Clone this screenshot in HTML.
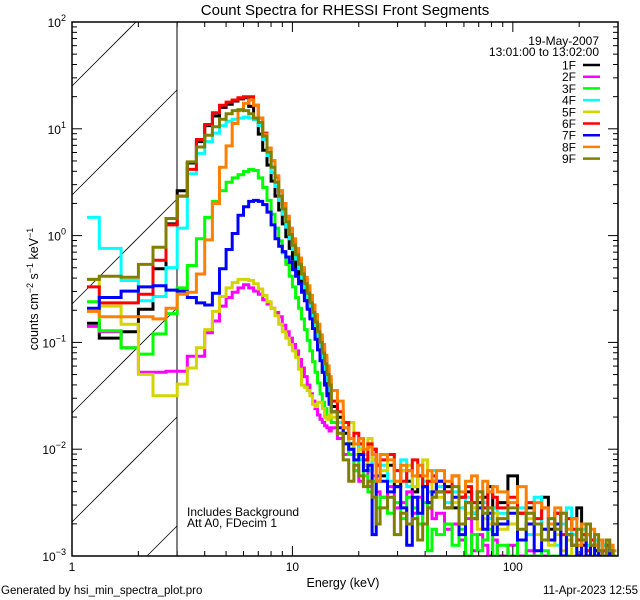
<!DOCTYPE html>
<html><head><meta charset="utf-8"><title>Count Spectra for RHESSI Front Segments</title>
<style>
html,body{margin:0;padding:0;background:#fff;width:640px;height:600px;overflow:hidden;}
svg{display:block;font-family:"Liberation Sans",sans-serif;}
</style></head>
<body>
<svg id="chart" width="640" height="600" viewBox="0 0 640 600" xmlns="http://www.w3.org/2000/svg">
<defs><clipPath id="plotclip"><rect x="72" y="22" width="546" height="534"/></clipPath></defs>
<rect width="640" height="600" fill="#fff"/>
<text x="345" y="15" font-size="15" text-anchor="middle">Count Spectra for RHESSI Front Segments</text>
<g id="hatch"></g>
<line x1="177" y1="22" x2="177" y2="556" stroke="#000" stroke-width="1"/>
<g id="series" clip-path="url(#plotclip)"></g>
<rect x="72" y="22" width="546" height="534" fill="none" stroke="#000" stroke-width="1.5"/>
<g id="ticks"></g>
<text transform="translate(38,289) rotate(-90)" font-size="12.5" text-anchor="middle">counts cm<tspan dy="-5" font-size="9">−2</tspan><tspan dy="5"> s</tspan><tspan dy="-5" font-size="9">−1</tspan><tspan dy="5"> keV</tspan><tspan dy="-5" font-size="9">−1</tspan></text>
<text x="343" y="587" font-size="12.5" text-anchor="middle">Energy (keV)</text>
<text x="1" y="594" font-size="11.5">Generated by hsi_min_spectra_plot.pro</text>
<text x="638" y="594" font-size="11.5" text-anchor="end">11-Apr-2023 12:55</text>
<text x="187" y="516" font-size="12">Includes Background</text>
<text x="187" y="527" font-size="12">Att A0, FDecim 1</text>
<text x="599" y="45" font-size="12" text-anchor="end">19-May-2007</text>
<text x="599" y="56" font-size="12" text-anchor="end">13:01:00 to 13:02:00</text>
<g id="legend"></g>
</svg>
<script>
// ---- data ----
const segments = ["1F","2F","3F","4F","5F","6F","7F","8F","9F"];
const segmentColors = ["#000000","#ff00ff","#00ff00","#00ffff","#d4d400","#ff0000","#0000ff","#ff8000","#808000"];
// energy bin edges (keV)
const lowEdges = [1.17,1.33,1.67,2.0,2.33,2.67,3.0];
const midStep = 1/3, midEnd = 15;
const tailBlocks = [[15,25,1],[25,45,2],[45,85,4],[85,295,10]];
// log10 counts per bin: 6 low + 36 mid + 51 tail
const log1F = [-0.82,-0.96,-0.90,-0.69,-0.31,0.11,
0.42,0.68,0.88,1.03,1.12,1.20,1.23,1.26,1.28,1.29,1.21,1.09,0.95,0.80,0.66,0.51,0.37,0.24,0.11,-0.01,-0.12,-0.22,-0.31,-0.40,-0.49,-0.58,-0.67,-0.76,-0.86,-0.96,-1.06,-1.17,-1.28,-1.38,-1.48,-1.55,
-1.60,-1.70,-1.85,-1.95,-2.05,-1.90,-2.10,-2.20,-2.00,-2.15,
-2.25,-2.15,-2.35,-2.20,-2.30,-2.40,-2.25,-2.35,-2.50,-2.30,
-2.40,-2.35,-2.55,-2.45,-2.40,-2.60,-2.50,-2.45,-2.35,-2.55,
-2.50,-2.25,-2.60,-2.55,-2.70,-2.45,-2.75,-2.60,-2.70,-2.80,-2.65,-2.55,-2.90,-2.80,-2.85,-2.95,-2.85,-2.90,-3.05,-2.95,-3.10];
const log2F = [-0.85,-0.90,-1.05,-1.28,-1.28,-1.27,
-1.27,-1.13,-1.13,-0.91,-0.80,-0.66,-0.58,-0.53,-0.49,-0.46,-0.49,-0.52,-0.55,-0.60,-0.64,-0.68,-0.72,-0.76,-0.84,-0.90,-0.96,-1.02,-1.08,-1.16,-1.24,-1.32,-1.40,-1.48,-1.55,-1.62,-1.68,-1.72,-1.75,-1.78,-1.80,-1.83,
-1.80,-1.90,-2.05,-2.00,-2.20,-2.30,-2.15,-2.35,-2.25,-2.40,
-2.45,-2.35,-2.55,-2.50,-2.40,-2.60,-2.45,-2.70,-2.55,-2.65,
-2.60,-2.75,-2.70,-2.85,-2.65,-2.95,-2.80,-2.90,-3.00,-2.85,
-3.00,-2.90,-3.10,-2.95,-3.20,-3.05,-3.10,-3.30,-3.05,-3.20,-3.40,-3.10,-3.30,-3.20,-3.50,-3.25,-3.40,-3.30,-3.50,-3.40,-3.60];
const log3F = [-0.62,-0.89,-1.05,-1.11,-0.92,-0.73,
-0.49,-0.28,-0.03,0.17,0.32,0.42,0.50,0.54,0.57,0.60,0.62,0.61,0.54,0.45,0.33,0.20,0.07,-0.05,-0.16,-0.27,-0.38,-0.48,-0.58,-0.68,-0.78,-0.88,-0.98,-1.08,-1.18,-1.28,-1.38,-1.48,-1.56,-1.62,-1.68,-1.72,
-1.75,-1.85,-1.95,-2.05,-2.20,-2.10,-2.25,-2.40,-2.30,-2.55,
-2.45,-2.60,-2.50,-2.65,-2.45,-2.55,-2.70,-2.50,-2.95,-2.75,
-2.80,-2.70,-2.90,-2.75,-3.00,-2.80,-2.95,-2.85,-2.75,-3.05,
-2.90,-3.10,-2.85,-3.00,-3.20,-2.95,-3.10,-3.05,-3.30,-3.00,-3.15,-3.10,-3.40,-3.05,-3.20,-3.30,-3.10,-3.40,-3.20,-3.30,-3.50];
const log4F = [0.17,-0.12,-0.42,-0.61,-0.57,-0.30,
0.07,0.58,0.77,0.88,0.96,1.03,1.07,1.09,1.10,1.11,1.10,1.09,1.03,0.90,0.75,0.59,0.46,0.33,0.20,0.08,-0.03,-0.13,-0.22,-0.31,-0.40,-0.49,-0.58,-0.67,-0.76,-0.86,-0.96,-1.06,-1.16,-1.26,-1.36,-1.45,
-1.65,-1.75,-1.80,-2.00,-1.95,-2.10,-2.05,-2.20,-2.10,-2.25,
-2.15,-2.30,-2.20,-2.10,-2.35,-2.25,-2.15,-2.30,-2.40,-2.20,
-2.35,-2.50,-2.40,-2.55,-2.45,-2.60,-2.40,-2.50,-2.65,-2.55,
-2.60,-2.70,-2.55,-2.80,-2.45,-2.75,-2.65,-2.90,-2.70,-2.55,-2.80,-3.00,-2.75,-2.90,-3.10,-2.85,-3.00,-2.90,-3.20,-3.00,-3.10];
const log5F = [-0.41,-0.66,-0.83,-1.30,-1.50,-1.50,
-1.39,-1.24,-1.05,-0.88,-0.71,-0.57,-0.49,-0.44,-0.41,-0.41,-0.42,-0.45,-0.50,-0.56,-0.62,-0.68,-0.75,-0.83,-0.90,-0.96,-1.02,-1.08,-1.14,-1.25,-1.40,-1.42,-1.45,-1.50,-1.58,-1.60,-1.56,-1.56,-1.62,-1.70,-1.72,-1.68,
-1.70,-1.85,-1.95,-1.75,-2.05,-2.00,-2.15,-1.90,-2.10,-2.25,
-2.20,-2.05,-2.30,-2.20,-2.15,-2.35,-2.25,-2.10,-2.30,-2.40,
-2.45,-2.55,-2.50,-2.70,-2.60,-2.55,-2.75,-2.65,-2.70,-2.60,
-2.75,-2.70,-2.85,-2.65,-2.80,-2.75,-2.90,-2.80,-2.95,-2.85,-3.00,-2.90,-3.10,-2.95,-3.05,-3.20,-3.00,-3.10,-3.30,-3.10,-3.20];
const log6F = [-0.48,-0.63,-0.63,-0.55,-0.23,0.10,
0.37,0.62,0.90,1.04,1.15,1.22,1.25,1.27,1.29,1.30,1.30,1.22,1.10,0.96,0.82,0.70,0.55,0.42,0.30,0.18,0.06,-0.05,-0.14,-0.23,-0.32,-0.41,-0.50,-0.59,-0.68,-0.77,-0.86,-0.96,-1.05,-1.15,-1.25,-1.35,
-1.55,-1.65,-1.75,-1.90,-1.85,-1.95,-2.10,-1.95,-2.00,-2.15,
-2.10,-2.05,-2.20,-2.30,-2.20,-2.10,-2.25,-2.35,-2.30,-2.25,
-2.30,-2.40,-2.25,-2.45,-2.35,-2.50,-2.40,-2.55,-2.40,-2.45,
-2.55,-2.45,-2.60,-2.50,-2.65,-2.55,-2.70,-2.60,-2.80,-2.65,-2.75,-2.85,-2.80,-2.95,-2.85,-2.90,-3.10,-2.95,-3.00,-3.05,-3.10];
const log7F = [-0.68,-0.58,-0.52,-0.48,-0.47,-0.51,
-0.52,-0.58,-0.63,-0.65,-0.54,-0.31,-0.13,0.02,0.19,0.27,0.32,0.33,0.32,0.29,0.22,0.10,-0.03,-0.10,-0.15,-0.20,-0.25,-0.32,-0.38,-0.45,-0.53,-0.61,-0.69,-0.78,-0.87,-0.97,-1.07,-1.17,-1.28,-1.40,-1.50,-1.58,
-1.65,-1.80,-1.95,-2.00,-2.10,-2.05,-2.20,-2.15,-2.80,-2.25,
-2.30,-2.40,-2.35,-2.55,-2.90,-2.45,-2.60,-2.35,-2.50,-2.40,
-2.30,-2.55,-2.45,-2.80,-2.50,-2.65,-2.55,-2.75,-2.60,-2.80,
-2.70,-2.60,-2.85,-2.70,-2.95,-2.75,-2.85,-2.70,-3.00,-2.80,-2.90,-3.05,-2.85,-3.00,-2.90,-3.10,-2.95,-3.05,-2.90,-3.10,-3.20];
const log8F = [-0.71,-0.76,-0.76,-0.76,-0.78,-0.68,
-0.55,-0.53,-0.36,-0.04,0.30,0.64,0.84,1.05,1.17,1.24,1.27,1.22,1.10,0.95,0.82,0.70,0.56,0.42,0.30,0.18,0.07,-0.03,-0.12,-0.21,-0.30,-0.39,-0.47,-0.56,-0.65,-0.74,-0.83,-0.93,-1.02,-1.12,-1.22,-1.32,
-1.45,-1.55,-1.80,-1.90,-1.95,-1.90,-2.00,-1.98,-2.05,-2.30,
-2.05,-2.10,-2.30,-2.15,-2.20,-2.25,-2.15,-2.25,-2.20,-2.30,
-2.20,-2.30,-2.25,-2.40,-2.30,-2.25,-2.45,-2.30,-2.40,-2.35,
-2.40,-2.50,-2.35,-2.60,-2.50,-2.55,-2.70,-2.55,-2.60,-2.75,-2.65,-2.90,-2.70,-2.80,-2.75,-2.90,-2.85,-3.00,-2.85,-2.90,-2.95];
const log9F = [-0.41,-0.38,-0.39,-0.27,-0.11,0.16,
0.37,0.69,0.83,0.94,1.02,1.09,1.14,1.17,1.18,1.17,1.14,1.10,1.06,0.93,0.78,0.64,0.50,0.37,0.25,0.13,0.01,-0.09,-0.18,-0.27,-0.36,-0.45,-0.54,-0.63,-0.72,-0.81,-0.90,-1.00,-1.10,-1.20,-1.30,-1.40,
-1.65,-1.85,-2.10,-2.30,-2.15,-2.25,-2.35,-2.30,-2.45,-2.70,
-2.55,-2.45,-2.80,-2.60,-2.70,-2.65,-2.85,-2.70,-2.55,-2.45,
-2.40,-2.55,-2.35,-2.70,-2.50,-2.65,-2.40,-2.60,-2.55,-2.70,
-2.65,-2.55,-2.75,-2.60,-2.70,-2.85,-2.65,-2.75,-2.60,-2.80,-2.90,-2.75,-2.85,-2.70,-2.90,-2.80,-2.95,-3.00,-2.85,-2.95,-3.05];
const seriesLogs = [log1F,log2F,log3F,log4F,log5F,log6F,log7F,log8F,log9F];
const yTickExponents = [-3,-2,-1,0,1,2];
const xTickLabels = ["1","10","100"];
const xTickValues = [1,10,100];

// ---- axes ----
const PX0=72, PX1=618, PY0=22, PY1=556;
const XMIN=1, XMAX=300, YMINE=-3, YMAXE=2;
function xScale(e){return PX0+(Math.log10(e)-Math.log10(XMIN))/(Math.log10(XMAX)-Math.log10(XMIN))*(PX1-PX0);}
function yScale(v){return PY1-(Math.log10(v)-YMINE)/(YMAXE-YMINE)*(PY1-PY0);}
const NS="http://www.w3.org/2000/svg";
function mk(tag,attrs,parent){const el=document.createElementNS(NS,tag);for(const k in attrs)el.setAttribute(k,attrs[k]);parent.appendChild(el);return el;}

// edges
const edges = lowEdges.slice();
for(let k=1;k<=Math.round((midEnd-3)/midStep);k++) edges.push(3+k*midStep);
tailBlocks.forEach(b=>{for(let e=b[0]+b[2];e<=b[1]+1e-9;e+=b[2]) edges.push(e);});

// hatch (lines of slope -1, clipped manually to box x 72..177, y 22..556)
const hatchG=document.getElementById('hatch');
const HX0=72, HX1=177;
for(let c=-23;c<=700;c+=109){
  // line: y = c - (x - HX0)
  let xa=HX0, xb=HX1;
  // y within [PY0, PY1]: x in [HX0 + c - PY1, HX0 + c - PY0]
  xa=Math.max(xa, HX0 + c - PY1);
  xb=Math.min(xb, HX0 + c - PY0);
  if(xb<=xa) continue;
  const ln=mk('line',{x1:xa,y1:c-(xa-HX0),x2:xb,y2:c-(xb-HX0),stroke:'#000','stroke-width':0.8},hatchG);
  
  
}

// series
const sg=document.getElementById('series');
seriesLogs.forEach((arr,si)=>{
  let d='';
  for(let i=0;i<arr.length&&i+1<edges.length;i++){
    const y=Math.min(yScale(Math.pow(10,arr[i])),PY1);
    const x0=xScale(edges[i]), x1=Math.min(xScale(edges[i+1]),PX1);
    d += (i===0?'M'+x0.toFixed(1)+','+y.toFixed(1):'V'+y.toFixed(1))+'H'+x1.toFixed(1);
  }
  const p=mk('path',{d:d,fill:'none',stroke:segmentColors[si],'stroke-width':3,'stroke-linejoin':'miter'},sg);
  
  
});

// ticks
const tg=document.getElementById('ticks');
for(let dec=0;dec<3;dec++){
  for(let m=1;m<10;m++){
    const e=Math.pow(10,dec)*m; if(e>XMAX) break;
    const x=xScale(e); const L=(m===1)?10:5;
    const t1=mk('line',{x1:x,y1:PY1,x2:x,y2:PY1-L,stroke:'#000','stroke-width':1},tg);
    
    
    const t2=mk('line',{x1:x,y1:PY0,x2:x,y2:PY0+L,stroke:'#000','stroke-width':1},tg);
    
    
  }
}
xTickValues.forEach((v,i)=>{
  const t=mk('text',{x:xScale(v),y:PY1+15,'font-size':12,'text-anchor':'middle'},tg);
  t.textContent=xTickLabels[i];
  
  
});
for(let ex=YMINE;ex<YMAXE;ex++){
  for(let m=1;m<10;m++){
    const y=yScale(Math.pow(10,ex)*m); const L=(m===1)?10:5;
    const a=mk('line',{x1:PX0,y1:y,x2:PX0+L,y2:y,stroke:'#000','stroke-width':1},tg);
    
    
    const b=mk('line',{x1:PX1,y1:y,x2:PX1-L,y2:y,stroke:'#000','stroke-width':1},tg);
    
    
  }
}
yTickExponents.forEach(ex=>{
  const y=yScale(Math.pow(10,ex));
  const t=mk('text',{x:PX0-6,y:y+5,'font-size':12,'text-anchor':'end'},tg);
  
  
  const s1=mk('tspan',{},t); s1.textContent='10';
  const s2=mk('tspan',{dy:-6,'font-size':9}, t); s2.textContent=(ex<0?'−':'')+Math.abs(ex);
});

// legend
const lg=document.getElementById('legend');
segments.forEach((s,i)=>{
  const y=65+i*11.7;
  const g=mk('g',{},lg);
  
  
  const t=mk('text',{x:576,y:y+4.5,'font-size':12,'text-anchor':'end'},g); t.textContent=s;
  mk('line',{x1:583,y1:y,x2:600,y2:y,stroke:segmentColors[i],'stroke-width':2.5},g);
});
</script>
</body></html>
